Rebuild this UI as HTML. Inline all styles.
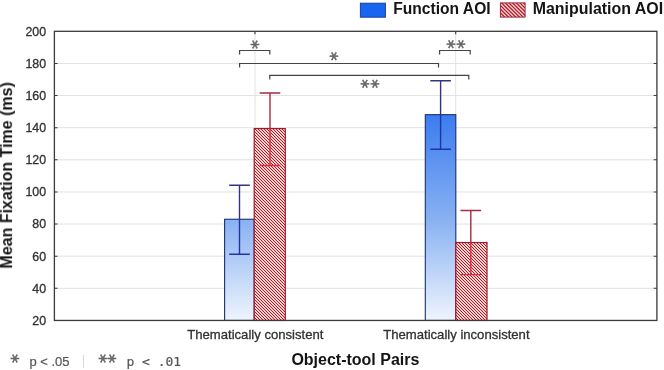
<!DOCTYPE html>
<html lang="en"><head><meta charset="utf-8"><title>Mean Fixation Time by Object-tool Pairs</title>
<style>html,body{margin:0;padding:0;background:#fff}body{width:664px;height:370px;overflow:hidden}svg{display:block}text{font-family:"Liberation Sans",sans-serif}.b{font-weight:bold;font-size:16px;fill:#141414}.tk{font-size:12.4px;fill:#2e332e;stroke:#2e332e;stroke-width:.3px}.cat{font-size:13.1px;fill:#2e332e;stroke:#2e332e;stroke-width:.3px}.ast{font-family:"DejaVu Sans","Liberation Sans",sans-serif;font-size:18px;fill:#666;stroke:#666;stroke-width:.55px}.fn{font-size:13px;fill:#555;stroke:#555;stroke-width:.2px}.mono{font-family:"DejaVu Sans Mono","Liberation Mono",monospace;font-size:13px;fill:#555;stroke:#555;stroke-width:.2px}</style></head><body>
<svg width="664" height="370" viewBox="0 0 664 370">
<defs>
<linearGradient id="gb" gradientUnits="userSpaceOnUse" x1="0" y1="114.8" x2="0" y2="320.4"><stop offset="0" stop-color="#3c7cf0"/><stop offset="0.5" stop-color="#86b0f2"/><stop offset="1" stop-color="#eef4fd"/></linearGradient>
<pattern id="hr" patternUnits="userSpaceOnUse" width="12" height="12"><rect width="12" height="12" fill="#ffd4cc"/><path d="M-16.000,-1.000 L-2.000,13.000 M-13.000,-1.000 L1.000,13.000 M-10.000,-1.000 L4.000,13.000 M-7.000,-1.000 L7.000,13.000 M-4.000,-1.000 L10.000,13.000 M-1.000,-1.000 L13.000,13.000 M2.000,-1.000 L16.000,13.000 M5.000,-1.000 L19.000,13.000 M8.000,-1.000 L22.000,13.000 M11.000,-1.000 L25.000,13.000 M14.000,-1.000 L28.000,13.000" stroke="#a6182e" stroke-width="1.0" fill="none"/></pattern>
<pattern id="hl" patternUnits="userSpaceOnUse" width="11" height="11"><rect width="11" height="11" fill="#ffcac2"/><path d="M-15.667,-1.000 L-2.667,12.000 M-12.000,-1.000 L1.000,12.000 M-8.333,-1.000 L4.667,12.000 M-4.667,-1.000 L8.333,12.000 M-1.000,-1.000 L12.000,12.000 M2.667,-1.000 L15.667,12.000 M6.333,-1.000 L19.333,12.000 M10.000,-1.000 L23.000,12.000 M13.667,-1.000 L26.667,12.000" stroke="#a6182e" stroke-width="1.2" fill="none"/></pattern>
<filter id="nf" x="0" y="0" width="664" height="370" filterUnits="userSpaceOnUse" color-interpolation-filters="sRGB"><feOffset dx="0" dy="0"/></filter>
</defs>
<g filter="url(#nf)">
<rect width="664" height="370" fill="#fff"/>
<line x1="54.4" y1="288.32" x2="656.9" y2="288.32" stroke="#e2e2e2" stroke-width="1"/>
<line x1="54.4" y1="256.19" x2="656.9" y2="256.19" stroke="#e2e2e2" stroke-width="1"/>
<line x1="54.4" y1="224.07" x2="656.9" y2="224.07" stroke="#e2e2e2" stroke-width="1"/>
<line x1="54.4" y1="191.94" x2="656.9" y2="191.94" stroke="#e2e2e2" stroke-width="1"/>
<line x1="54.4" y1="159.81" x2="656.9" y2="159.81" stroke="#e2e2e2" stroke-width="1"/>
<line x1="54.4" y1="127.68" x2="656.9" y2="127.68" stroke="#e2e2e2" stroke-width="1"/>
<line x1="54.4" y1="95.56" x2="656.9" y2="95.56" stroke="#e2e2e2" stroke-width="1"/>
<line x1="54.4" y1="63.43" x2="656.9" y2="63.43" stroke="#e2e2e2" stroke-width="1"/>
<line x1="255.00" y1="31.3" x2="255.00" y2="320.4" stroke="#e2e2e2" stroke-width="1"/>
<line x1="455.70" y1="31.3" x2="455.70" y2="320.4" stroke="#e2e2e2" stroke-width="1"/>
<rect x="224.6" y="219.25" width="29.6" height="101.20" fill="url(#gb)" stroke="#1c3070" stroke-width="1.1"/>
<path d="M239.5,185.19 V219.25 M229.2,185.19 H249.8" stroke="#34347e" stroke-width="1.4" fill="none"/>
<path d="M239.5,219.25 V254.27 M229.2,254.27 H249.8" stroke="#2234a4" stroke-width="1.4" fill="none"/>
<rect x="254.2" y="128.57" width="31.1" height="191.88" fill="url(#hr)" stroke="#9c1a30" stroke-width="1.2"/>
<path d="M270.0,92.99 V128.57 M259.7,92.99 H280.3" stroke="#a32c44" stroke-width="1.4" fill="none"/>
<path d="M270.0,128.57 V165.43 M259.7,165.43 H280.3" stroke="#e0283a" stroke-width="1.4" fill="none"/>
<rect x="425.3" y="114.67" width="30.5" height="205.78" fill="url(#gb)" stroke="#1c3070" stroke-width="1.1"/>
<path d="M440.6,80.78 V114.67 M430.3,80.78 H450.9" stroke="#34347e" stroke-width="1.4" fill="none"/>
<path d="M440.6,114.67 V149.21 M430.3,149.21 H450.9" stroke="#2234a4" stroke-width="1.4" fill="none"/>
<rect x="455.8" y="242.54" width="31.2" height="77.91" fill="url(#hr)" stroke="#9c1a30" stroke-width="1.2"/>
<path d="M470.8,210.57 V242.54 M460.5,210.57 H481.1" stroke="#a32c44" stroke-width="1.4" fill="none"/>
<path d="M470.8,242.54 V274.67 M460.5,274.67 H481.1" stroke="#e0283a" stroke-width="1.4" fill="none"/>
<rect x="54.4" y="31.3" width="602.5" height="289.15" fill="none" stroke="#3a3a3a" stroke-width="1.3"/>
<path d="M54.4,288.32 h3.2 M656.9,288.32 h-3.2" stroke="#3a3a3a" stroke-width="1.1"/>
<path d="M54.4,256.19 h3.2 M656.9,256.19 h-3.2" stroke="#3a3a3a" stroke-width="1.1"/>
<path d="M54.4,224.07 h3.2 M656.9,224.07 h-3.2" stroke="#3a3a3a" stroke-width="1.1"/>
<path d="M54.4,191.94 h3.2 M656.9,191.94 h-3.2" stroke="#3a3a3a" stroke-width="1.1"/>
<path d="M54.4,159.81 h3.2 M656.9,159.81 h-3.2" stroke="#3a3a3a" stroke-width="1.1"/>
<path d="M54.4,127.68 h3.2 M656.9,127.68 h-3.2" stroke="#3a3a3a" stroke-width="1.1"/>
<path d="M54.4,95.56 h3.2 M656.9,95.56 h-3.2" stroke="#3a3a3a" stroke-width="1.1"/>
<path d="M54.4,63.43 h3.2 M656.9,63.43 h-3.2" stroke="#3a3a3a" stroke-width="1.1"/>
<path d="M255.00,31.3 v3" stroke="#3a3a3a" stroke-width="1.1"/>
<path d="M455.70,31.3 v3" stroke="#3a3a3a" stroke-width="1.1"/>
<text class="tk" x="46.1" y="324.85" text-anchor="end">20</text>
<text class="tk" x="46.1" y="292.72" text-anchor="end">40</text>
<text class="tk" x="46.1" y="260.59" text-anchor="end">60</text>
<text class="tk" x="46.1" y="228.47" text-anchor="end">80</text>
<text class="tk" x="46.1" y="196.34" text-anchor="end">100</text>
<text class="tk" x="46.1" y="164.21" text-anchor="end">120</text>
<text class="tk" x="46.1" y="132.08" text-anchor="end">140</text>
<text class="tk" x="46.1" y="99.96" text-anchor="end">160</text>
<text class="tk" x="46.1" y="67.83" text-anchor="end">180</text>
<text class="tk" x="46.1" y="35.70" text-anchor="end">200</text>
<path d="M239.6,54.4 V50.5 H269.8 V54.4" stroke="#444" stroke-width="1.2" fill="none"/>
<path d="M439.6,54.4 V50.5 H470.2 V54.4" stroke="#444" stroke-width="1.2" fill="none"/>
<path d="M239.6,67.4 V63.5 H438.5 V67.4" stroke="#444" stroke-width="1.2" fill="none"/>
<path d="M269.8,79.4 V75.4 H468.8 V79.4" stroke="#444" stroke-width="1.2" fill="none"/>
<text class="ast" x="245.78" y="39.89" rotate="90">*</text>
<text class="ast" x="442.03 451.88" y="39.79" rotate="90">**</text>
<text class="ast" x="324.73" y="51.79" rotate="90">*</text>
<text class="ast" x="356.43 365.83" y="79.19" rotate="90">**</text>
<rect x="360.4" y="3.2" width="25" height="14" fill="#1766f2" stroke="#1c3f9a" stroke-width="1"/>
<text class="b" style="font-size:15.6px" x="393.3" y="14.2">Function AOI</text>
<rect x="500.4" y="2.9" width="24.7" height="14.2" fill="url(#hl)" stroke="#9c2a3c" stroke-width="1"/>
<text class="b" style="font-size:15.95px" x="532.7" y="14.2">Manipulation AOI</text>
<text class="cat" x="255.3" y="339.3" text-anchor="middle">Thematically consistent</text>
<text class="cat" x="456.4" y="339.3" text-anchor="middle">Thematically inconsistent</text>
<text class="b" x="355.4" y="364.7" text-anchor="middle">Object-tool Pairs</text>
<text class="b" transform="translate(12.1,175.4) rotate(-90)" text-anchor="middle">Mean Fixation Time (ms)</text>
<text class="ast" x="5.63" y="353.89" rotate="90">*</text>
<text class="fn" x="29.4" y="365.9" xml:space="preserve">p &lt; .05</text>
<line x1="83.5" y1="355" x2="83.5" y2="368" stroke="#dcdcdc" stroke-width="1.2"/>
<text class="ast" x="93.73 102.73" y="353.89" rotate="90">**</text>
<text class="mono" x="126.4" y="365.9" xml:space="preserve">p &lt; .01</text>
</g>
</svg></body></html>
